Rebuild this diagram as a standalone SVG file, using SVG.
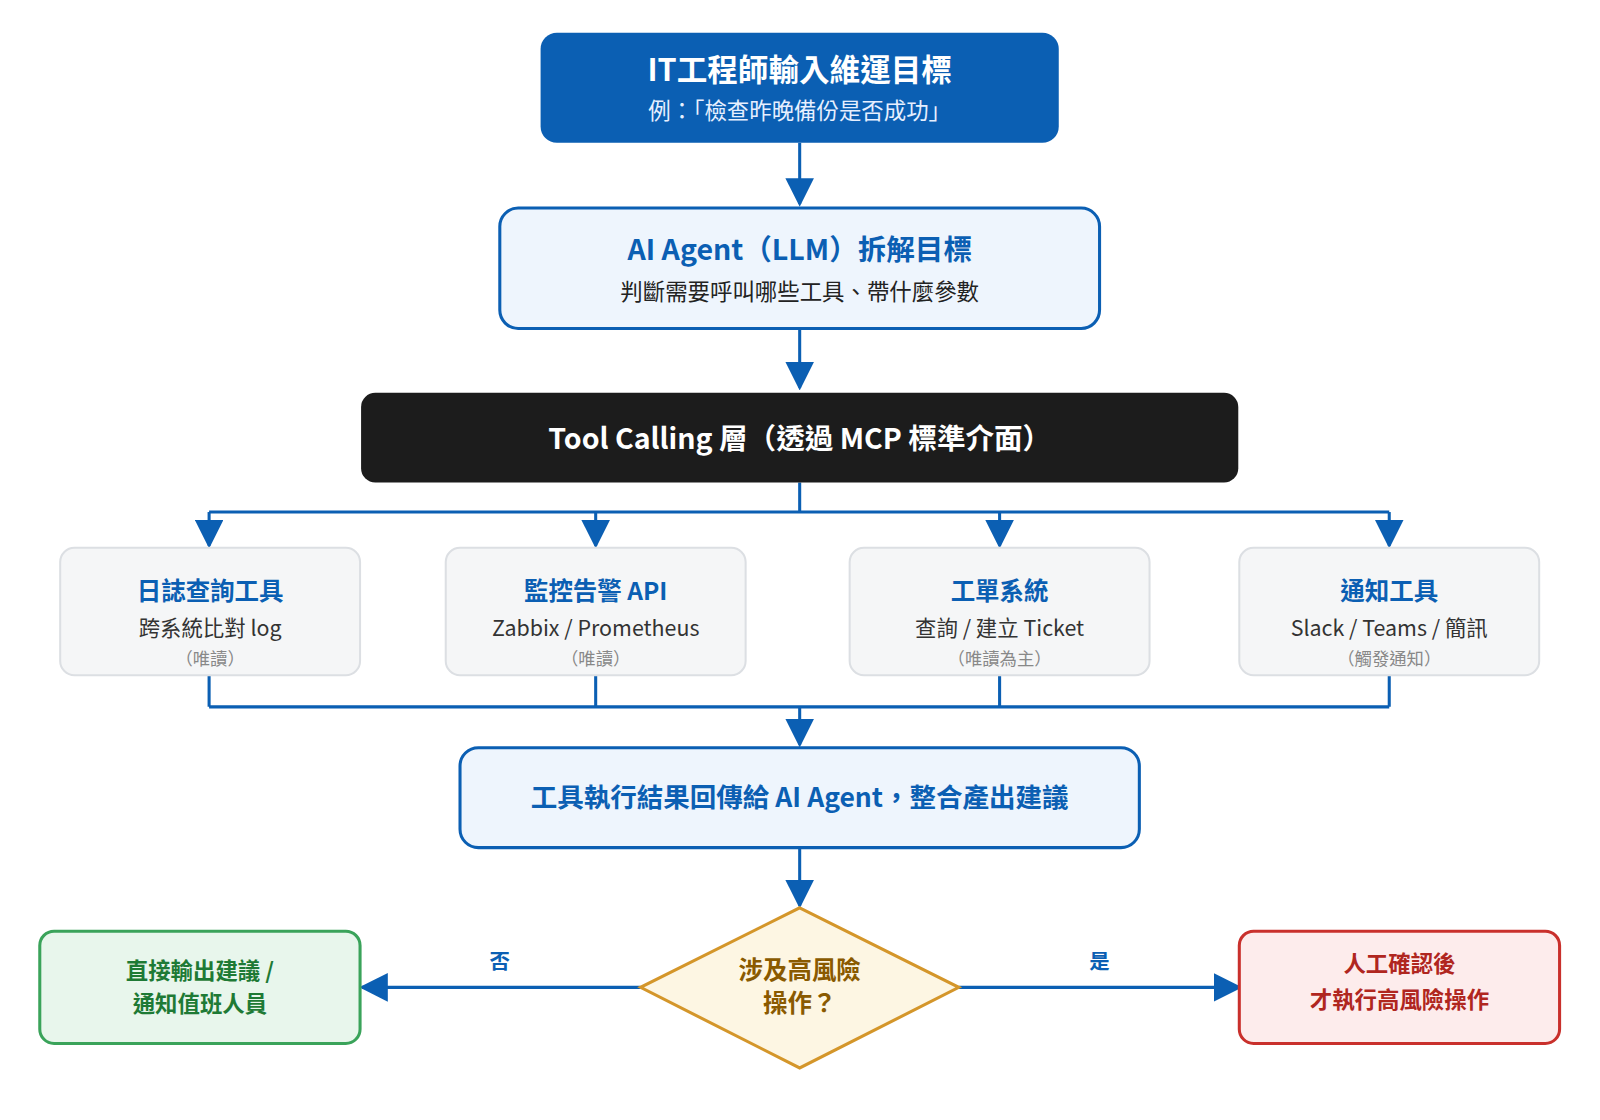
<svg xmlns="http://www.w3.org/2000/svg" width="1600" height="1120" viewBox="0 0 1600 1120">
<style>
text{font-family:"Noto Sans CJK TC","Noto Sans",sans-serif;text-anchor:middle}
.b{font-weight:700}
.ln{fill:none;stroke:#0b5fb3;stroke-width:3}
.tool rect{fill:#f5f6f7;stroke:#dcdfe3;stroke-width:2}
.tt{fill:#0b5fb3;font-size:24px;font-weight:700}
.ts{fill:#333;font-size:21px}
.tn{fill:#888;font-size:17px}
</style>
<defs><marker id="ah" viewBox="0 0 10 10" refX="9" refY="5" markerWidth="28" markerHeight="28" markerUnits="userSpaceOnUse" orient="auto"><path d="M0,0L10,5L0,10z" fill="#0b5fb3"/></marker></defs>
<rect width="1600" height="1120" fill="#fff"/>
<g transform="scale(1.02)">
<g id="connectors">
<path class="ln" d="M784 140V200" marker-end="url(#ah)"/>
<path class="ln" d="M784 322V380" marker-end="url(#ah)"/>
<path class="ln" d="M784 473V502M205 502H1362"/>
<path class="ln" d="M205 502V535" marker-end="url(#ah)"/>
<path class="ln" d="M584 502V535" marker-end="url(#ah)"/>
<path class="ln" d="M980 502V535" marker-end="url(#ah)"/>
<path class="ln" d="M1362 502V535" marker-end="url(#ah)"/>
<path class="ln" d="M205 662V693M584 662V693M980 662V693M1362 662V693M205 693H1362"/>
<path class="ln" d="M784 693V730" marker-end="url(#ah)"/>
<path class="ln" d="M784 831V888" marker-end="url(#ah)"/>
<path class="ln" d="M628 968H355" marker-end="url(#ah)"/>
<path class="ln" d="M940 968H1215" marker-end="url(#ah)"/>
<text x="490" y="950" font-size="20" fill="#0b5fb3" class="b">否</text>
<text x="1078" y="950" font-size="20" fill="#0b5fb3" class="b">是</text>
</g>
<g id="input"><rect x="530" y="32" width="508" height="108" rx="16" fill="#0b5fb3"/>
<text x="784" y="79" font-size="30" fill="#fff" class="b">IT工程師輸入維運目標</text>
<text x="784" y="117" font-size="22" fill="#e6efff">例：「檢查昨晚備份是否成功」</text></g>
<g id="agent"><rect x="490" y="204" width="588" height="118" rx="18" fill="#eef5fd" stroke="#0b5fb3" stroke-width="3"/>
<text x="784" y="255" font-size="28" fill="#0b5fb3" class="b">AI Agent（LLM）拆解目標</text>
<text x="784" y="294" font-size="22" fill="#222">判斷需要呼叫哪些工具、帶什麼參數</text></g>
<g id="toolcalling"><rect x="354" y="385" width="860" height="88" rx="14" fill="#1c1c1c"/>
<text x="784" y="440" font-size="28" fill="#fff" class="b">Tool Calling 層（透過 MCP 標準介面）</text></g>
<g id="t1" class="tool"><rect x="59" y="537" width="294" height="125" rx="14"/>
<text x="206" y="588" class="tt">日誌查詢工具</text><text x="206" y="624" class="ts">跨系統比對 log</text><text x="206" y="652" class="tn">（唯讀）</text></g>
<g id="t2" class="tool"><rect x="437" y="537" width="294" height="125" rx="14"/>
<text x="584" y="588" class="tt">監控告警 API</text><text x="584" y="624" class="ts">Zabbix / Prometheus</text><text x="584" y="652" class="tn">（唯讀）</text></g>
<g id="t3" class="tool"><rect x="833" y="537" width="294" height="125" rx="14"/>
<text x="980" y="588" class="tt">工單系統</text><text x="980" y="624" class="ts">查詢 / 建立 Ticket</text><text x="980" y="652" class="tn">（唯讀為主）</text></g>
<g id="t4" class="tool"><rect x="1215" y="537" width="294" height="125" rx="14"/>
<text x="1362" y="588" class="tt">通知工具</text><text x="1362" y="624" class="ts">Slack / Teams / 簡訊</text><text x="1362" y="652" class="tn">（觸發通知）</text></g>
<g id="result"><rect x="451" y="733" width="666" height="98" rx="18" fill="#eef5fd" stroke="#0b5fb3" stroke-width="3"/>
<text x="784" y="791" font-size="26" fill="#0b5fb3" class="b">工具執行結果回傳給 AI Agent，整合產出建議</text></g>
<g id="decision"><polygon points="784,890 940,968 784,1047 628,968" fill="#fdf6e3" stroke="#d4962a" stroke-width="3"/>
<text x="784" y="960" font-size="24" fill="#8a5a00" class="b">涉及高風險</text><text x="784" y="992" font-size="24" fill="#8a5a00" class="b">操作？</text></g>
<g id="no"><rect x="39" y="913" width="314" height="110" rx="14" fill="#e8f6ec" stroke="#3aa35a" stroke-width="3"/>
<text x="196" y="960" font-size="22" fill="#1e7a35" class="b">直接輸出建議 /</text><text x="196" y="992" font-size="22" fill="#1e7a35" class="b">通知值班人員</text></g>
<g id="yes"><rect x="1215" y="913" width="314" height="110" rx="14" fill="#fdecec" stroke="#c9302c" stroke-width="3"/>
<text x="1372" y="953" font-size="22" fill="#b0261f" class="b">人工確認後</text><text x="1372" y="988" font-size="22" fill="#b0261f" class="b">才執行高風險操作</text></g>
</g>
</svg>
